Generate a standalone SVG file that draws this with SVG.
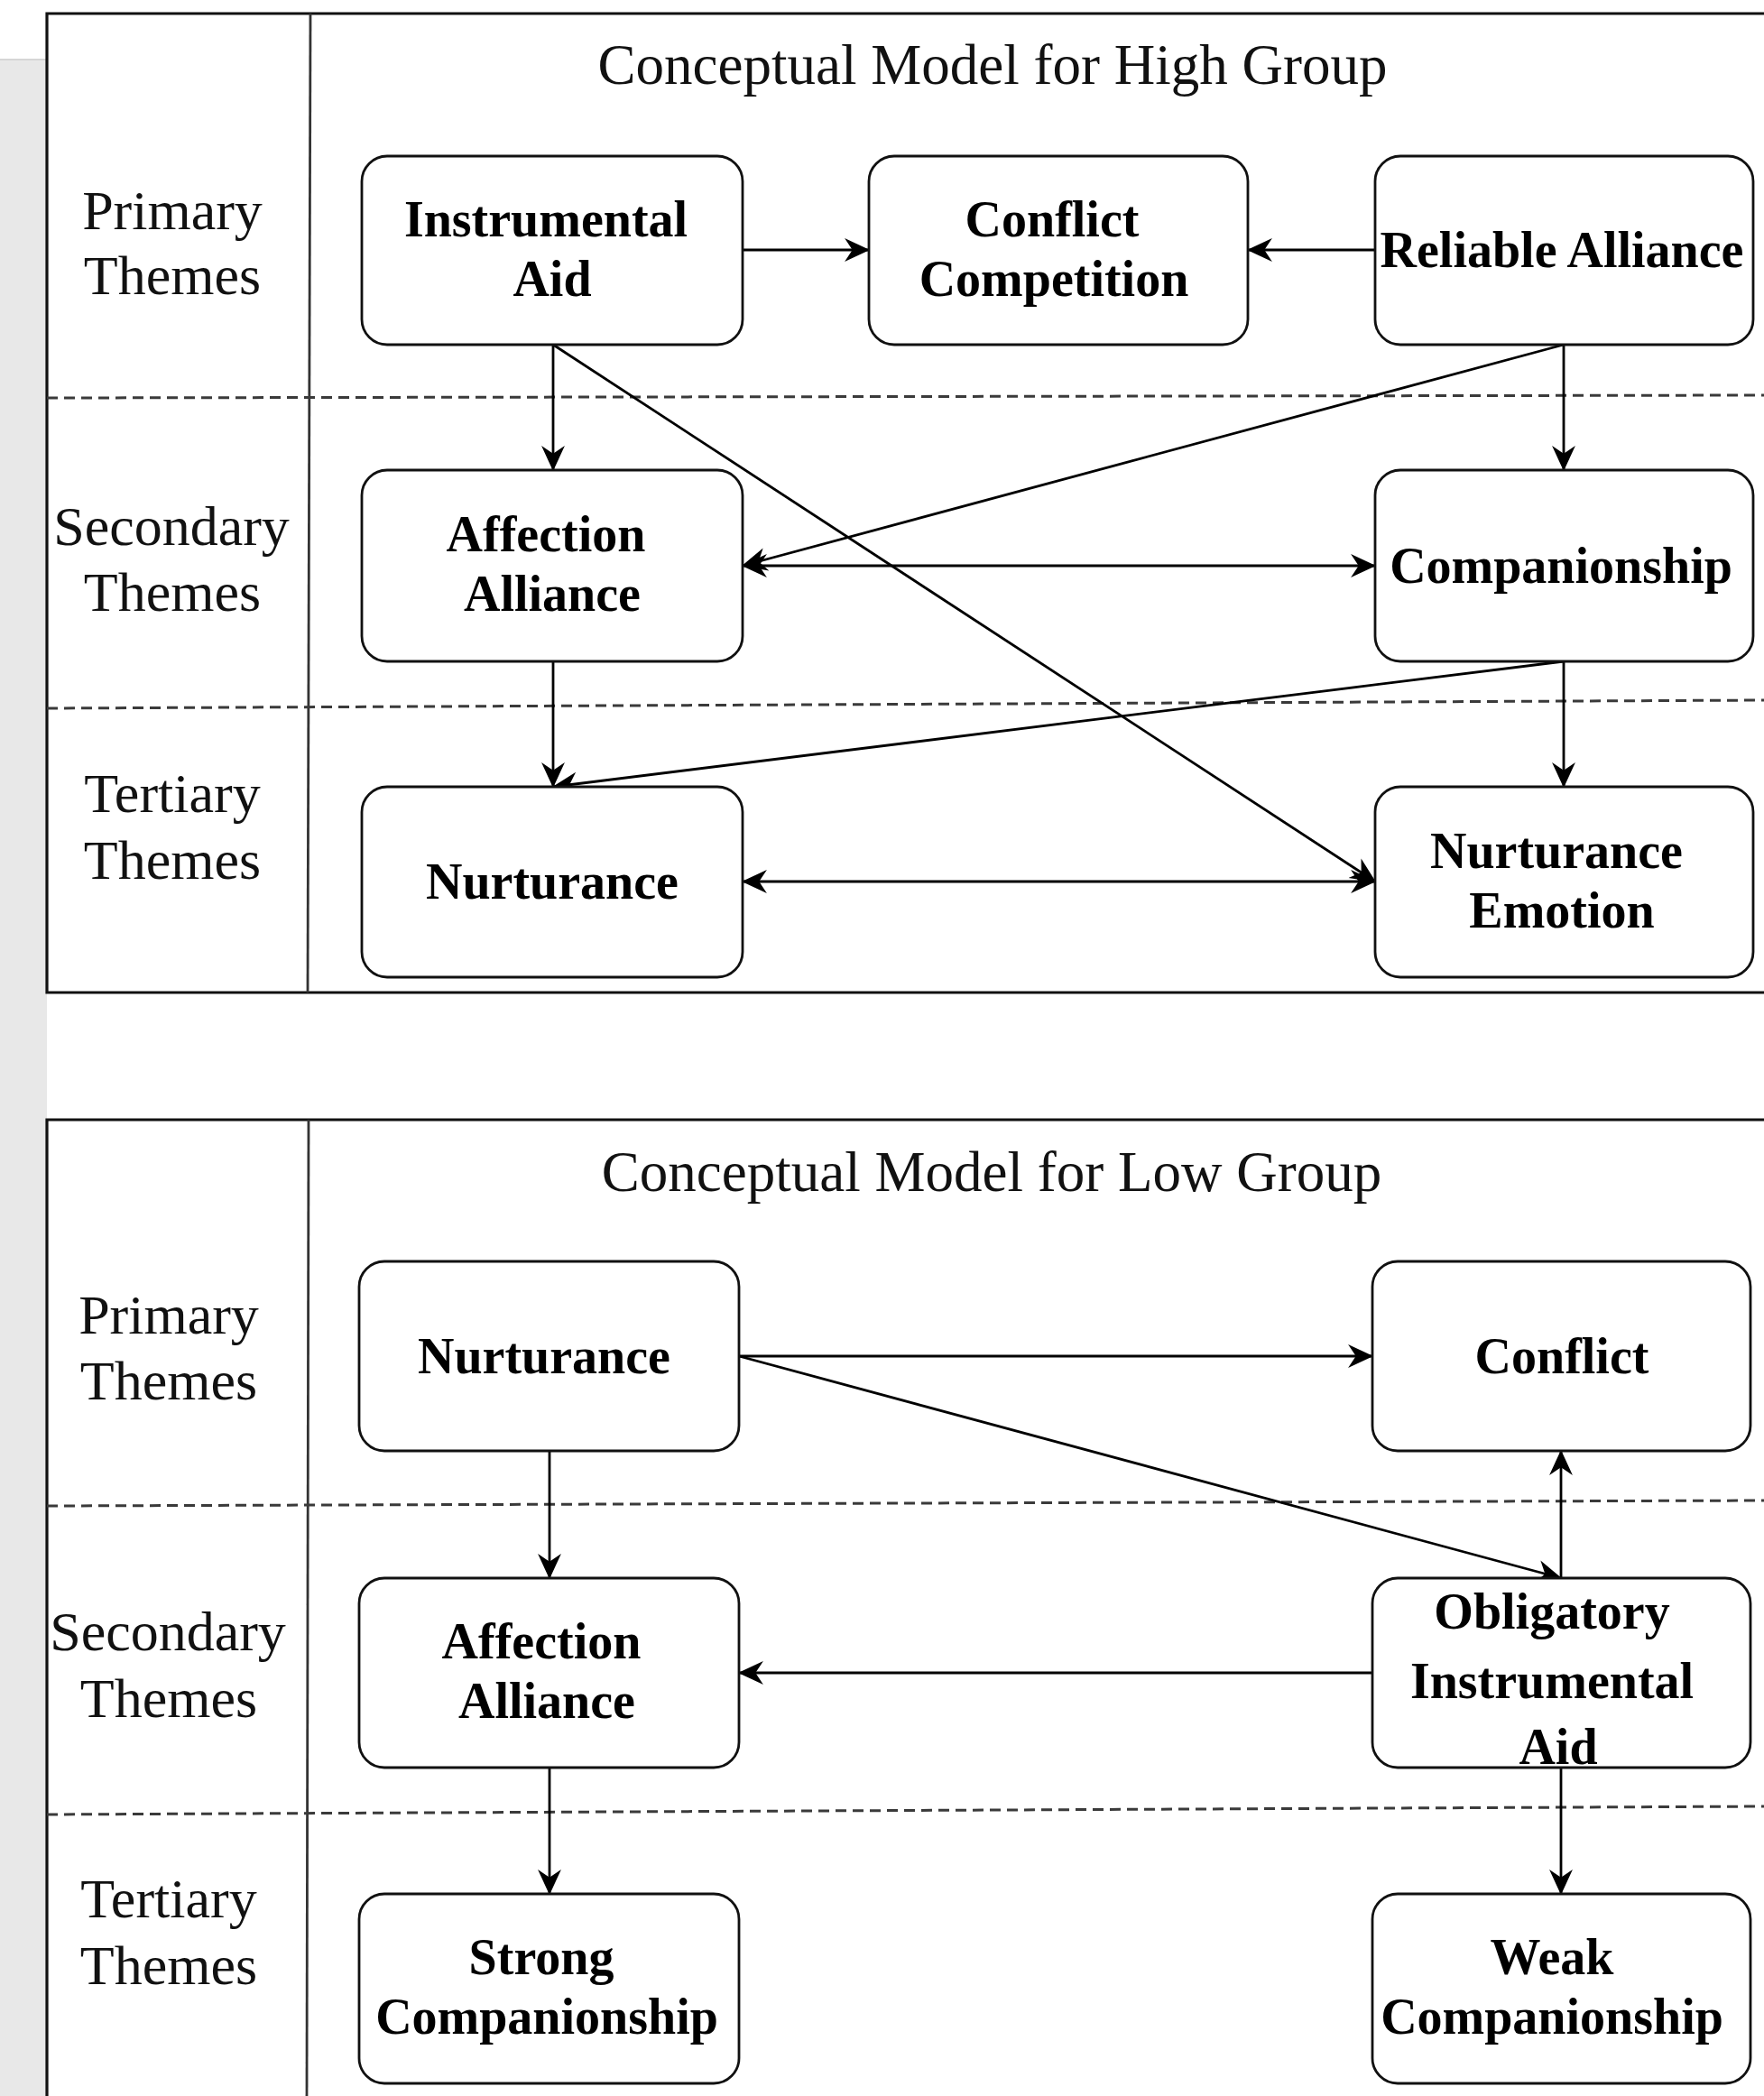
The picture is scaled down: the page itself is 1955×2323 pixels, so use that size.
<svg xmlns="http://www.w3.org/2000/svg" width="1955" height="2323" viewBox="0 0 1955 2323">
<defs>
<marker id="ah" viewBox="0 0 26 26" refX="25" refY="13" markerWidth="28" markerHeight="28" markerUnits="userSpaceOnUse" orient="auto-start-reverse">
<path d="M0,1 L26,13 L0,25 L8,13 z" fill="#000"/>
</marker>
<style>
.frame{fill:none;stroke:#111;stroke-width:3.2}
.div{fill:none;stroke:#333;stroke-width:2.8}
.dash{fill:none;stroke:#3a3a3a;stroke-width:3;stroke-dasharray:12 7}
.box{fill:#fff;stroke:#111;stroke-width:2.8}
.lbl{font-family:"Liberation Serif","Times New Roman",serif;font-size:62px;fill:#111;text-anchor:middle}
.ttl{font-family:"Liberation Serif","Times New Roman",serif;font-size:63px;fill:#111;text-anchor:middle}
.nt{font-family:"Liberation Serif","Times New Roman",serif;font-size:56px;font-weight:bold;fill:#000;text-anchor:middle}
.c{fill:none;stroke:#000;stroke-width:2.8;marker-end:url(#ah)}
.cb{fill:none;stroke:#000;stroke-width:2.8;marker-end:url(#ah);marker-start:url(#ah)}
</style>
</defs>
<rect x="0" y="0" width="1955" height="2323" fill="#fff"/>
<rect x="0" y="66" width="52" height="2257" fill="#e8e8e8"/>
<line x1="0" y1="66" x2="52" y2="66" stroke="#d6d6d6" stroke-width="2"/>

<g id="panel-high">
<path class="frame" d="M1960,15 H52 V1100 H1960"/>
<line class="div" x1="344" y1="15" x2="341" y2="1100"/>
<line class="dash" x1="52" y1="441" x2="1955" y2="438"/>
<line class="dash" x1="52" y1="785" x2="1955" y2="776"/>
<text class="ttl" x="1100" y="93">Conceptual Model for High Group</text>
<text class="lbl" x="191" y="254">Primary</text>
<text class="lbl" x="191" y="326">Themes</text>
<text class="lbl" x="190" y="604">Secondary</text>
<text class="lbl" x="191" y="677">Themes</text>
<text class="lbl" x="191" y="900">Tertiary</text>
<text class="lbl" x="191" y="974">Themes</text>
</g>

<g id="panel-low">
<path class="frame" d="M1960,1241 H52 V2330"/>
<line class="div" x1="342" y1="1241" x2="340" y2="2323"/>
<line class="dash" x1="52" y1="1669" x2="1955" y2="1663"/>
<line class="dash" x1="52" y1="2011" x2="1955" y2="2002"/>
<text class="ttl" x="1099" y="1320">Conceptual Model for Low Group</text>
<text class="lbl" x="187" y="1478">Primary</text>
<text class="lbl" x="187" y="1551">Themes</text>
<text class="lbl" x="186" y="1829">Secondary</text>
<text class="lbl" x="187" y="1903">Themes</text>
<text class="lbl" x="187" y="2125">Tertiary</text>
<text class="lbl" x="187" y="2199">Themes</text>
</g>

<g id="connectors">
<line class="c" x1="823" y1="277" x2="963" y2="277"/>
<line class="c" x1="1524" y1="277" x2="1383" y2="277"/>
<line class="c" x1="613" y1="382" x2="613" y2="521"/>
<line class="c" x1="613" y1="382" x2="1524" y2="977"/>
<line class="c" x1="1733" y1="382" x2="1733" y2="521"/>
<line class="c" x1="1733" y1="382" x2="823" y2="627"/>
<line class="cb" x1="823" y1="627" x2="1524" y2="627"/>
<line class="c" x1="613" y1="733" x2="613" y2="872"/>
<line class="c" x1="1733" y1="733" x2="613" y2="872"/>
<line class="c" x1="1733" y1="733" x2="1733" y2="872"/>
<line class="cb" x1="823" y1="977" x2="1524" y2="977"/>

<line class="c" x1="819" y1="1503" x2="1521" y2="1503"/>
<line class="c" x1="819" y1="1503" x2="1730" y2="1749"/>
<line class="c" x1="1730" y1="1749" x2="1730" y2="1608"/>
<line class="c" x1="609" y1="1608" x2="609" y2="1749"/>
<line class="c" x1="1521" y1="1854" x2="819" y2="1854"/>
<line class="c" x1="609" y1="1959" x2="609" y2="2099"/>
<line class="c" x1="1730" y1="1959" x2="1730" y2="2099"/>
</g>

<g id="n-instrumental-aid"><rect class="box" x="401" y="173" width="422" height="209" rx="28"/><text class="nt" x="605" y="262">Instrumental</text><text class="nt" x="612" y="328">Aid</text></g>
<g id="n-conflict-competition"><rect class="box" x="963" y="173" width="420" height="209" rx="28"/><text class="nt" x="1166" y="262">Conflict</text><text class="nt" x="1168" y="328">Competition</text></g>
<g id="n-reliable-alliance"><rect class="box" x="1524" y="173" width="419" height="209" rx="28"/><text class="nt" x="1731" y="296">Reliable Alliance</text></g>
<g id="n-affection-alliance-high"><rect class="box" x="401" y="521" width="422" height="212" rx="28"/><text class="nt" x="605" y="611">Affection</text><text class="nt" x="612" y="677">Alliance</text></g>
<g id="n-companionship"><rect class="box" x="1524" y="521" width="419" height="212" rx="28"/><text class="nt" x="1730" y="646">Companionship</text></g>
<g id="n-nurturance-high"><rect class="box" x="401" y="872" width="422" height="211" rx="28"/><text class="nt" x="612" y="996">Nurturance</text></g>
<g id="n-nurturance-emotion"><rect class="box" x="1524" y="872" width="419" height="211" rx="28"/><text class="nt" x="1725" y="962">Nurturance</text><text class="nt" x="1731" y="1028">Emotion</text></g>

<g id="n-nurturance-low"><rect class="box" x="398" y="1398" width="421" height="210" rx="28"/><text class="nt" x="603" y="1522">Nurturance</text></g>
<g id="n-conflict"><rect class="box" x="1521" y="1398" width="419" height="210" rx="28"/><text class="nt" x="1731" y="1522">Conflict</text></g>
<g id="n-affection-alliance-low"><rect class="box" x="398" y="1749" width="421" height="210" rx="28"/><text class="nt" x="600" y="1838">Affection</text><text class="nt" x="606" y="1904">Alliance</text></g>
<g id="n-obligatory"><rect class="box" x="1521" y="1749" width="419" height="210" rx="28"/><text class="nt" x="1720" y="1805">Obligatory</text><text class="nt" x="1720" y="1882">Instrumental</text><text class="nt" x="1727" y="1955">Aid</text></g>
<g id="n-strong-companionship"><rect class="box" x="398" y="2099" width="421" height="210" rx="28"/><text class="nt" x="600" y="2188">Strong</text><text class="nt" x="606" y="2254">Companionship</text></g>
<g id="n-weak-companionship"><rect class="box" x="1521" y="2099" width="419" height="210" rx="28"/><text class="nt" x="1720" y="2188">Weak</text><text class="nt" x="1720" y="2254">Companionship</text></g>
</svg>
